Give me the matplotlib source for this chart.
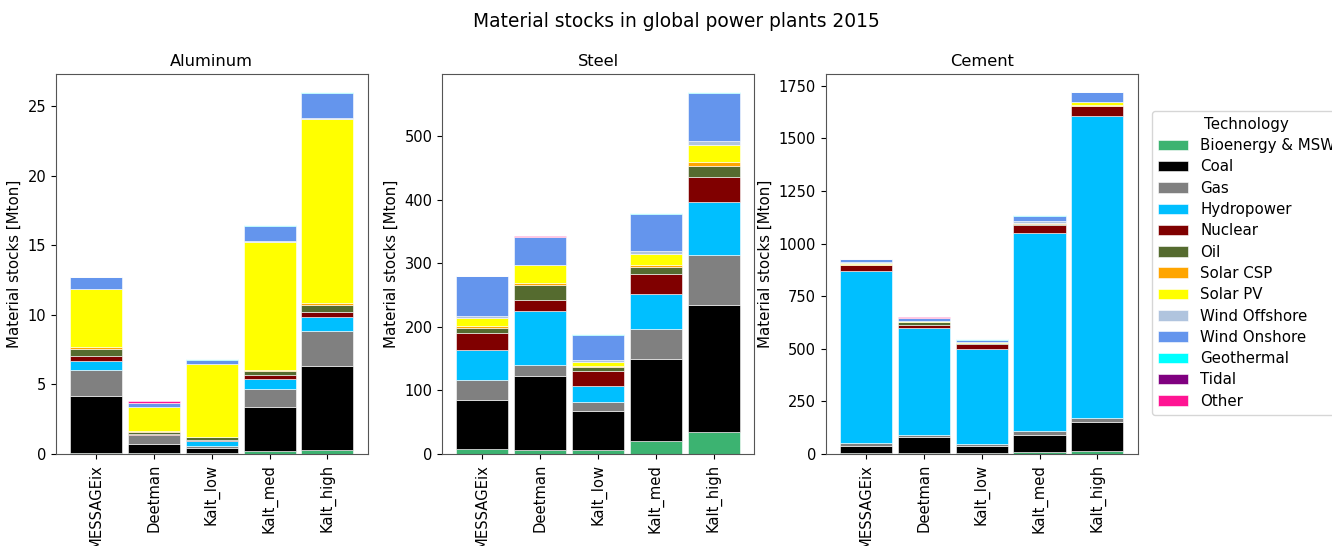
import numpy as np
import matplotlib
matplotlib.use("Agg")
import matplotlib.pyplot as plt

scenarios = ["MESSAGEix", "Deetman", "Kalt_low", "Kalt_med", "Kalt_high"]

technologies = [
    "Bioenergy & MSW", "Coal", "Gas", "Hydropower", "Nuclear", "Oil",
    "Solar CSP", "Solar PV", "Wind Offshore", "Wind Onshore",
    "Geothermal", "Tidal", "Other"
]

tech_colors = [
    "mediumseagreen", "black", "grey", "deepskyblue", "maroon",
    "darkolivegreen", "orange", "yellow", "lightsteelblue",
    "cornflowerblue", "cyan", "purple", "deeppink"
]

# stocks in Mton, one row per technology, one column per scenario
aluminum = [
    [0.05, 0.04, 0.10, 0.22, 0.29],
    [4.09, 0.66, 0.31, 3.18, 6.02],
    [1.93, 0.65, 0.17, 1.27, 2.50],
    [0.60, 0.02, 0.38, 0.73, 1.04],
    [0.36, 0.05, 0.03, 0.24, 0.36],
    [0.53, 0.14, 0.24, 0.29, 0.48],
    [0.12, 0.06, 0.02, 0.12, 0.17],
    [4.15, 1.75, 5.18, 9.20, 13.20],
    [0.03, 0.04, 0.02, 0.05, 0.05],
    [0.86, 0.24, 0.32, 1.05, 1.83],
    [0.00, 0.01, 0.08, 0.10, 0.06],
    [0.00, 0.00, 0.00, 0.00, 0.00],
    [0.00, 0.12, 0.00, 0.00, 0.00],
]

steel = [
    [8.4, 6.8, 6.8, 20.0, 34.7],
    [76.9, 115.2, 60.6, 130.0, 199.5],
    [30.5, 17.5, 14.7, 47.4, 78.4],
    [47.4, 85.8, 25.3, 54.7, 83.7],
    [26.8, 16.3, 23.1, 30.5, 39.0],
    [8.4, 24.7, 6.3, 12.1, 18.4],
    [2.6, 3.2, 1.6, 2.7, 5.2],
    [12.7, 27.3, 5.8, 17.9, 27.9],
    [3.7, 0.8, 3.2, 4.2, 5.8],
    [62.6, 43.4, 40.0, 58.4, 75.8],
    [0.0, 0.3, 1.0, 1.0, 1.1],
    [0.0, 0.0, 0.0, 0.0, 0.0],
    [0.0, 2.4, 0.0, 0.0, 0.0],
]

cement = [
    [6, 5, 5, 11, 13],
    [32, 74, 33, 81, 138],
    [13, 10, 10, 17, 19],
    [821, 509, 453, 942, 1436],
    [25, 15, 20, 38, 47],
    [3, 13, 5, 5, 3],
    [2, 2, 1, 2, 4],
    [8, 4, 3, 4, 12],
    [3, 1, 2, 5, 3],
    [13, 14, 10, 27, 43],
    [0, 0, 3, 2, 2],
    [0, 0, 0, 0, 0],
    [0, 6, 0, 0, 0],
]

materials = ["Aluminum", "Steel", "Cement"]
material_data = [aluminum, steel, cement]

plt.rcParams["font.size"] = 10.8
plt.rcParams["xtick.labelsize"] = 10.6
plt.rcParams["ytick.labelsize"] = 10.5

fig = plt.figure(figsize=(13.32, 5.46), dpi=100)
lefts = [0.042, 0.332, 0.620]
axes = [fig.add_axes([l, 0.1685, 0.234, 0.696]) for l in lefts]

x = np.arange(len(scenarios))
for ax, name, data in zip(axes, materials, material_data):
    bottom = np.zeros(len(scenarios))
    for tech, color, row in zip(technologies, tech_colors, data):
        row = np.array(row, dtype=float)
        ax.bar(x, row, 0.9, bottom=bottom, color=color, label=tech,
               edgecolor="white", linewidth=0.4)
        bottom += row
    # leave the usual 5% headroom above the tallest stack
    ax.set_ylim(0, bottom.max() * 1.05)
    ax.set_xticks(x)
    ax.set_xticklabels(scenarios, rotation=90)
    ax.set_title(name, fontsize=11.7)
    ax.set_ylabel("Material stocks [Mton]")
    for s in ax.spines.values():
        s.set_color("#555555")

handles, labels = axes[0].get_legend_handles_labels()
fig.legend(handles, labels, title="Technology", loc="upper left",
           bbox_to_anchor=(0.865, 0.797), borderaxespad=0, fontsize=10.8,
           title_fontsize=10.8, labelspacing=0.42)

fig.suptitle("Material stocks in global power plants 2015", fontsize=13.4,
             x=0.508, y=0.978)

fig.savefig("out.png", dpi=100)
